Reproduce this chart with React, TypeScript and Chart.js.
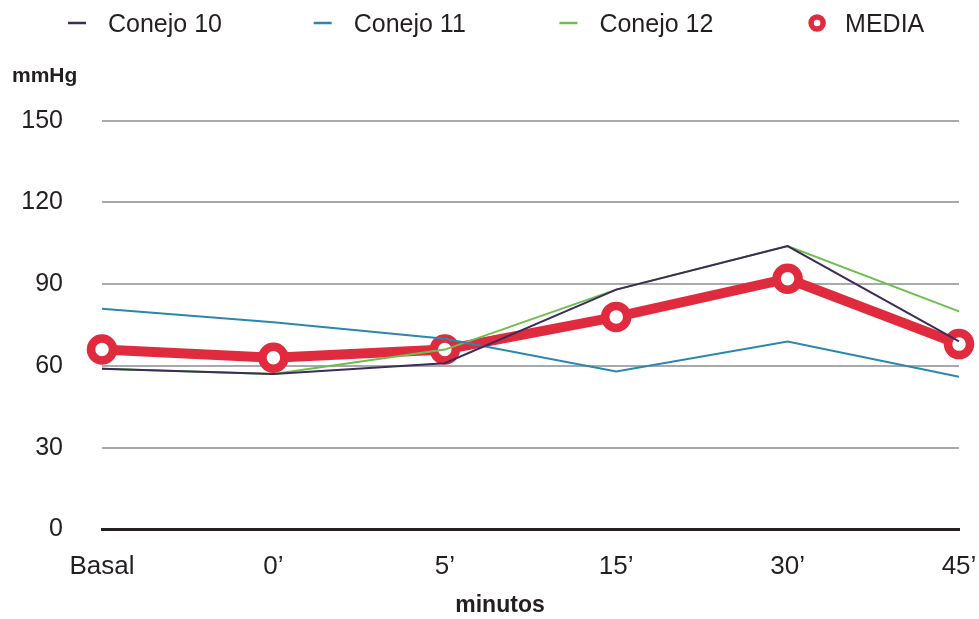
import { useEffect, useRef } from 'react';
import { Chart, registerables } from 'chart.js';

Chart.register(...registerables);

// Time points and blood pressure readings (mmHg) per rabbit, plus the mean
const categories = ['Basal', '0’', '5’', '15’', '30’', '45’'];
const conejo10 = [59, 57, 61, 88, 104, 69];
const conejo11 = [81, 76, 70, 58, 69, 56];
const conejo12 = [59, 57, 66, 88, 104, 80];
const media = [66, 63, 66, 78, 92, 68];
const seriesNames = ['Conejo 10', 'Conejo 11', 'Conejo 12', 'MEDIA'];
const yMin = 0;
const yMax = 150;
const yStep = 30;
const yTitle = 'mmHg';
const xTitle = 'minutos';

const FONT = '"Liberation Sans", Arial, Helvetica, sans-serif';
const INK = '#231f20';
const GRID = '#a7a9ac';
const COLORS = ['#3d2b58', '#2a87b0', '#6cbf4c', '#e02b3e'];

// Draws the series key across the top plus the two axis captions
const captions = {
  id: 'captions',
  afterDraw(chart: any) {
    const { ctx } = chart;
    ctx.save();
    ctx.textAlign = 'left';
    ctx.textBaseline = 'alphabetic';
    chart.data.datasets.forEach((ds: any, i: number) => {
      const tx = 108 + i * 245.7;
      const cy = 23;
      if (ds.pointRadius > 0) {
        ctx.beginPath();
        ctx.arc(tx - 28, cy, 6, 0, Math.PI * 2);
        ctx.fillStyle = '#ffffff';
        ctx.fill();
        ctx.lineWidth = 5.5;
        ctx.strokeStyle = ds.borderColor;
        ctx.stroke();
      } else {
        ctx.beginPath();
        ctx.moveTo(tx - 40, cy);
        ctx.lineTo(tx - 22, cy);
        ctx.lineWidth = 2.5;
        ctx.strokeStyle = ds.borderColor;
        ctx.stroke();
      }
      ctx.fillStyle = INK;
      ctx.font = `25px ${FONT}`;
      ctx.fillText(ds.label, tx, 32);
    });

    ctx.fillStyle = INK;
    ctx.font = `bold 21px ${FONT}`;
    ctx.fillText(yTitle, 12, 81.7);

    ctx.textAlign = 'center';
    ctx.font = `bold 23px ${FONT}`;
    ctx.fillText(xTitle, 500, 612);
    ctx.restore();
  },
};

export default function App() {
  const canvasRef = useRef<HTMLCanvasElement | null>(null);

  useEffect(() => {
    if (!canvasRef.current) return;
    const thin = (label: string, data: number[], color: string) => ({
      label,
      data,
      borderColor: color,
      backgroundColor: color,
      borderWidth: 2,
      pointRadius: 0,
      pointHoverRadius: 0,
      tension: 0,
    });
    const chart = new Chart(canvasRef.current, {
      type: 'line',
      data: {
        labels: categories,
        datasets: [
          thin(seriesNames[0], conejo10, COLORS[0]),
          thin(seriesNames[1], conejo11, COLORS[1]),
          thin(seriesNames[2], conejo12, COLORS[2]),
          {
            label: seriesNames[3],
            data: media,
            borderColor: COLORS[3],
            backgroundColor: '#ffffff',
            borderWidth: 10,
            pointRadius: 11,
            pointBorderWidth: 8.5,
            pointBackgroundColor: '#ffffff',
            pointBorderColor: COLORS[3],
            pointHoverRadius: 11,
            tension: 0,
          },
        ],
      },
      options: {
        animation: false,
        responsive: true,
        maintainAspectRatio: false,
        layout: { padding: { top: 120.7, left: 0, right: 20, bottom: 14.4 } },
        plugins: {
          legend: { display: false },
          title: { display: false },
          tooltip: { enabled: false },
        },
        scales: {
          x: {
            type: 'category',
            offset: false,
            grid: { display: false, drawTicks: false },
            border: { display: true, color: INK, width: 3 },
            ticks: {
              color: INK,
              font: { family: FONT, size: 26 },
              padding: 22,
              autoSkip: false,
              maxRotation: 0,
            },
            afterFit: (scale: any) => {
              // the outer labels may overhang the plot edges
              scale.paddingLeft = 0;
              scale.paddingRight = 0;
            },
          },
          y: {
            min: yMin,
            max: yMax,
            grid: {
              drawTicks: false,
              lineWidth: 2,
              color: (c: any) => (c.tick && c.tick.value === 0 ? 'rgba(0,0,0,0)' : GRID),
            },
            border: { display: false },
            ticks: {
              stepSize: yStep,
              color: INK,
              font: { family: FONT, size: 25 },
              padding: 39,
            },
            afterFit: (scale: any) => {
              scale.width = 102;
            },
          },
        },
      },
      plugins: [captions],
    });
    return () => chart.destroy();
  }, []);

  return (
    <div style={{ position: 'fixed', left: 0, top: 0, width: 979, height: 619, background: '#ffffff' }}>
      <canvas ref={canvasRef} />
    </div>
  );
}
